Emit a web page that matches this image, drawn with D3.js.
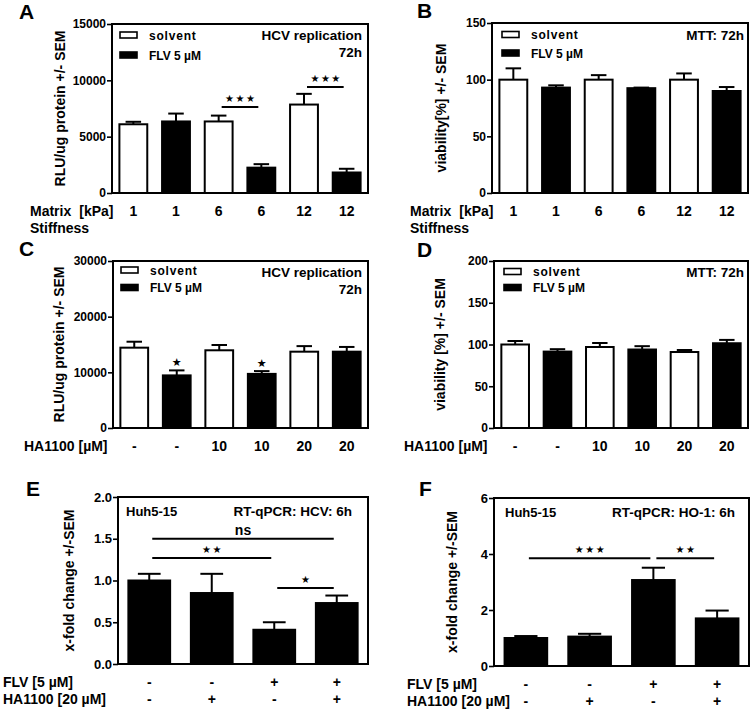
<!DOCTYPE html>
<html><head><meta charset="utf-8">
<script src="https://cdn.jsdelivr.net/npm/d3@7"></script>
<style>
body{margin:0;background:#fff}
svg text{font-family:"Liberation Sans",Arial,Helvetica,sans-serif;font-weight:bold;fill:#000}
</style></head><body>
<svg id="fig" width="754" height="711"></svg>
<script>
// ---------------- DATA ----------------
const stiffnessLabels = ["1","1","6","6","12","12"];
const treatment6 = ["solvent","FLV","solvent","FLV","solvent","FLV"];
const hcvStiffMean = [6100, 6350, 6350, 2250, 7850, 1820];
const hcvStiffSem  = [220, 700, 520, 310, 950, 330];
const mttStiffMean = [100, 93, 100, 92.5, 100, 90];
const mttStiffSem  = [10, 2, 4, 0.5, 5.5, 3.5];

const ha1100Labels = ["-","-","10","10","20","20"];
const hcvHaMean = [14430, 9450, 13960, 9720, 13710, 13710];
const hcvHaSem  = [1070, 900, 950, 500, 1000, 850];
const mttHaMean = [100, 91.5, 97, 94, 91, 101.5];
const mttHaSem  = [4.2, 2.9, 4.8, 4, 2.4, 4];

const flvLabels  = ["-","-","+","+"];
const ha20Labels = ["-","+","-","+"];
const treatment4 = ["FLV","FLV","FLV","FLV"];
const hcvQpcrMean = [1.0, 0.85, 0.41, 0.73];
const hcvQpcrSem  = [0.08, 0.23, 0.09, 0.09];
const ho1Mean = [1.0, 1.05, 3.07, 1.70];
const ho1Sem  = [0.07, 0.10, 0.44, 0.28];

const ticksA = [0, 5000, 10000, 15000];
const ticksB = [0, 50, 100, 150];
const ticksC = [0, 10000, 20000, 30000];
const ticksD = [0, 50, 100, 150, 200];
const ticksE = [0, 0.5, 1.0, 1.5, 2.0];
const ticksF = [0, 2, 4, 6];

const legendItems = [{key:"solvent", label:"solvent"}, {key:"FLV", label:"FLV 5 µM"}];

const sigA = [{from:2, to:3, level:7630, label:"★★★"}, {from:4, to:5, level:9400, label:"★★★"}];
const sigE = [{from:0, to:3, level:1.5, label:"ns"}, {from:0, to:2, level:1.27, label:"★★"}, {from:2, to:3, level:0.91, label:"★"}];
const sigF = [{from:0, to:2, level:3.85, label:"★★★"}, {from:2, to:3, level:3.85, label:"★★"}];
const starsC = [{index:1, label:"★"}, {index:3, label:"★"}];

// ---------------- DRAW ----------------
const svg = d3.select("#fig");
const fillOf = {solvent:"#fff", FLV:"#000"};

function drawPanel(c){
  const g = svg.append("g");
  const n = c.mean.length;
  const x = d3.scaleBand().domain(d3.range(n)).range([c.left, c.right]).paddingInner(0.3).paddingOuter(0.15);
  const y = d3.scaleLinear().domain([c.ticks[0], c.ticks[c.ticks.length-1]]).range([c.bottom, c.top]);
  const bw = x.bandwidth();

  // bars
  g.selectAll("rect.bar").data(c.mean).join("rect").attr("class","bar")
    .attr("x", (d,i)=>x(i)+1).attr("width", bw-2)
    .attr("y", d=>y(d)).attr("height", d=>c.bottom - y(d))
    .attr("fill", (d,i)=>fillOf[c.treat[i]]).attr("stroke","#000").attr("stroke-width",2);

  // error bars
  const eg = g.append("g").attr("stroke","#000").attr("stroke-width",2);
  c.mean.forEach((m,i)=>{
    const cx = x(i)+bw/2, top = y(m + c.sem[i]);
    eg.append("line").attr("x1",cx).attr("x2",cx).attr("y1",y(m)).attr("y2",top);
    eg.append("line").attr("x1",cx-bw*0.26).attr("x2",cx+bw*0.26).attr("y1",top).attr("y2",top);
  });

  // frame
  g.append("rect").attr("x",c.left).attr("y",c.top).attr("width",c.right-c.left).attr("height",c.bottom-c.top)
    .attr("fill","none").attr("stroke","#000").attr("stroke-width",2);

  // y axis
  const ax = g.append("g").attr("transform",`translate(${c.left},0)`)
    .call(d3.axisLeft(y).tickValues(c.ticks).tickSize(5).tickPadding(1).tickFormat(c.fmt || d3.format("d")));
  ax.select(".domain").remove();
  ax.selectAll(".tick line").attr("stroke","#000").attr("stroke-width",1.6);
  ax.selectAll(".tick text").attr("font-size",c.tickFont||12).attr("font-family",null).style("fill","#000");

  // y title
  g.append("text").attr("transform",`translate(${c.ytx},${(c.top+c.bottom)/2}) rotate(-90)`)
    .attr("text-anchor","middle").attr("font-size",14).text(c.ytitle);

  // panel letter
  g.append("text").attr("x",c.letterX).attr("y",c.letterY).attr("font-size",21).text(c.letter);

  // x label rows
  c.rows.forEach((r,k)=>{
    const by = c.bottom + 23 + k*17;
    const t = g.append("text").attr("x",r.x).attr("y",by).attr("font-size",14);
    if (Array.isArray(r.title)) {
      t.append("tspan").text(r.title[0]);
      t.append("tspan").attr("dx",8).text(r.title[1]);
    } else t.text(r.title);
    if (r.labels) g.selectAll(null).data(r.labels).join("text")
      .attr("x",(d,i)=>x(i)+bw/2).attr("y",by).attr("text-anchor","middle").attr("font-size",14).text(d=>d);
  });

  // legend
  if (c.legend) {
    c.legend.forEach((L,k)=>{
      const ly = c.top + c.legGap0 + k*c.legGap;
      g.append("rect").attr("x",c.left+c.legDx).attr("y",ly).attr("width",17).attr("height",6)
        .attr("fill",fillOf[L.key]).attr("stroke","#000").attr("stroke-width",1.6);
      g.append("text").attr("x",c.left+c.legDx+29).attr("y",ly+7.5).attr("font-size",12)
        .attr("letter-spacing", L.key==="solvent" ? 0.8 : 0).text(L.label);
    });
  }

  // annotation texts
  (c.notes||[]).forEach(nt=>{
    g.append("text").attr("x",nt.x).attr("y",nt.y).attr("text-anchor",nt.anchor||"start")
      .attr("font-size",nt.size||13.5).text(nt.text);
  });

  // significance brackets
  (c.sig||[]).forEach(s=>{
    const x1 = x(s.from)+bw/2+3, x2 = x(s.to)+bw/2-3, ly = y(s.level);
    g.append("line").attr("x1",x1).attr("x2",x2).attr("y1",ly).attr("y2",ly).attr("stroke","#000").attr("stroke-width",2);
    const isStar = s.label.indexOf("★")>=0;
    g.append("text").attr("x",(x1+x2)/2 + (isStar?0.8:0)).attr("y", ly - (isStar?5:4)).attr("text-anchor","middle")
      .attr("font-size", isStar?10:14).attr("letter-spacing", isStar?1.5:0)
      .style("font-family", isStar?"'DejaVu Sans',sans-serif":null).text(s.label);
  });
  (c.stars||[]).forEach(s=>{
    const top = y(c.mean[s.index]+c.sem[s.index]);
    g.append("text").attr("x",x(s.index)+bw/2).attr("y",top-4).attr("text-anchor","middle")
      .attr("font-size",11).style("font-family","'DejaVu Sans',sans-serif").text(s.label);
  });
}

drawPanel({letter:"A", letterX:19, letterY:19, left:112, right:368, top:24, bottom:193,
  ticks:ticksA, mean:hcvStiffMean, sem:hcvStiffSem, treat:treatment6,
  ytitle:"RLU/ug protein +/- SEM", ytx:65,
  rows:[{title:["Matrix","[kPa]"], x:30, labels:stiffnessLabels},{title:"Stiffness", x:30}],
  legend:legendItems, legDx:8, legGap0:8, legGap:20,
  notes:[{text:"HCV replication", x:362, y:40, anchor:"end"},{text:"72h", x:362, y:57, anchor:"end"}],
  sig:sigA});

drawPanel({letter:"B", letterX:417, letterY:18, left:492, right:748, top:23, bottom:193,
  ticks:ticksB, mean:mttStiffMean, sem:mttStiffSem, treat:treatment6,
  ytitle:"viability[%] +/- SEM", ytx:446,
  rows:[{title:["Matrix","[kPa]"], x:410, labels:stiffnessLabels},{title:"Stiffness", x:410}],
  legend:legendItems, legDx:10, legGap0:8.5, legGap:18.5,
  notes:[{text:"MTT: 72h", x:744, y:40, anchor:"end"}]});

drawPanel({letter:"C", letterX:19, letterY:256, left:113, right:368, top:261, bottom:428,
  ticks:ticksC, mean:hcvHaMean, sem:hcvHaSem, treat:treatment6,
  ytitle:"RLU/ug protein +/- SEM", ytx:64,
  rows:[{title:"HA1100 [µM]", x:24, labels:ha1100Labels}],
  legend:legendItems, legDx:8, legGap0:6, legGap:17.5,
  notes:[{text:"HCV replication", x:362, y:277, anchor:"end"},{text:"72h", x:362, y:294, anchor:"end"}],
  stars:starsC});

drawPanel({letter:"D", letterX:417, letterY:257, left:494, right:748, top:261, bottom:428,
  ticks:ticksD, mean:mttHaMean, sem:mttHaSem, treat:treatment6,
  ytitle:"viability [%] +/- SEM", ytx:445,
  rows:[{title:"HA1100 [µM]", x:404, labels:ha1100Labels}],
  legend:legendItems, legDx:10, legGap0:7.5, legGap:16,
  notes:[{text:"MTT: 72h", x:744, y:277, anchor:"end"}]});

drawPanel({letter:"E", letterX:26, letterY:496, left:118, right:368, top:497, bottom:664,
  ticks:ticksE, fmt:d3.format(".1f"), tickFont:13, mean:hcvQpcrMean, sem:hcvQpcrSem, treat:treatment4,
  ytitle:"x-fold change +/-SEM", ytx:74,
  rows:[{title:"FLV [5 µM]", x:3, labels:flvLabels},{title:"HA1100 [20 µM]", x:3, labels:ha20Labels}],
  notes:[{text:"Huh5-15", x:126, y:516, size:13},{text:"RT-qPCR: HCV: 6h", x:352, y:516, anchor:"end", size:13.5}],
  sig:sigE});

drawPanel({letter:"F", letterX:419, letterY:496, left:494, right:749, top:498, bottom:666,
  ticks:ticksF, tickFont:13, mean:ho1Mean, sem:ho1Sem, treat:treatment4,
  ytitle:"x-fold change +/-SEM", ytx:457,
  rows:[{title:"FLV [5 µM]", x:407, labels:flvLabels},{title:"HA1100 [20 µM]", x:407, labels:ha20Labels}],
  notes:[{text:"Huh5-15", x:505, y:517, size:13},{text:"RT-qPCR: HO-1: 6h", x:735, y:517, anchor:"end", size:13.5}],
  sig:sigF});
</script>
</body></html>
